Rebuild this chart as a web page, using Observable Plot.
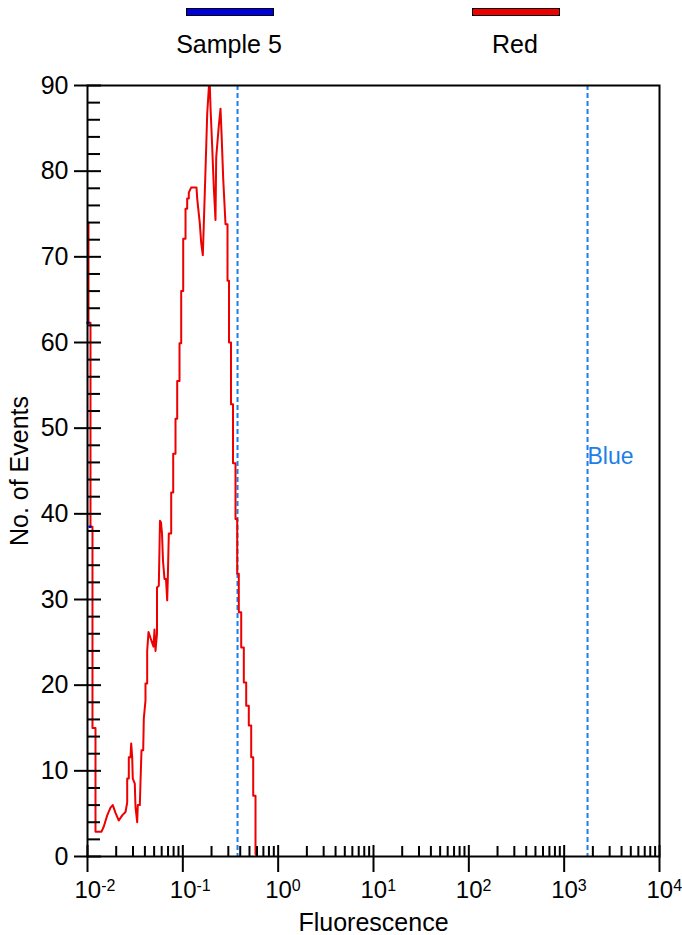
<!DOCTYPE html>
<html><head><meta charset="utf-8">
<script src="https://cdn.jsdelivr.net/npm/d3@7"></script>
<script src="https://cdn.jsdelivr.net/npm/@observablehq/plot@0.6"></script>
<style>
body{margin:0;background:#fff;}
#wrap{position:relative;width:682px;height:935px;font-family:"Liberation Sans",Arial,sans-serif;color:#000;}
.bar{position:absolute;top:8px;height:8px;width:88px;box-sizing:border-box;border:1px solid #000;}
.ltxt{position:absolute;top:32px;width:200px;text-align:center;font-size:25px;line-height:25px;}
</style></head><body>
<div id="wrap">
  <div class="bar" style="left:186px;background:#0000dd"></div>
  <div class="bar" style="left:472px;background:#ee0000"></div>
  <div class="ltxt" id="lt0" style="left:129px"></div>
  <div class="ltxt" id="lt1" style="left:415px"></div>
</div>
<script>
// Legend entries
const seriesNames = ["Sample 5", "Red"];

// Red histogram trace (fluorescence, no. of events)
const redFluor = [0.01024,0.01024,0.01075,0.01075,0.01128,0.01128,0.01213,0.01213,0.01403,0.01483,
0.01609,0.01743,0.01842,0.01967,0.02130,0.02312,0.02504,0.02609,0.02609,0.02712,
0.02712,0.02825,0.02873,0.02943,0.02986,0.03134,0.03187,0.03321,0.03369,0.03538,
0.03597,0.03685,0.03840,0.03896,0.04057,0.04057,0.04227,0.04227,0.04363,0.04579,
0.04923,0.05044,0.05167,0.05358,0.05358,0.05596,0.05761,0.05902,0.06046,0.06194,
0.06422,0.06659,0.06855,0.06955,0.07126,0.07425,0.07551,0.07551,0.07925,0.07925,
0.08378,0.08378,0.08728,0.08728,0.09228,0.09228,0.09614,0.09614,0.1009,0.1009,
0.1067,0.1067,0.1111,0.1111,0.1155,0.1155,0.1224,0.1391,0.1415,0.1507,
0.1559,0.1620,0.1660,0.1729,0.1802,0.1905,0.1951,0.2033,0.2113,0.2201,
0.2239,0.2384,0.2484,0.2545,0.2652,0.2803,0.2941,0.2941,0.3050,0.3050,
0.3201,0.3201,0.3360,0.3360,0.3568,0.3568,0.3718,0.3718,0.3864,0.3864,
0.4096,0.4096,0.4362,0.4362,0.4621,0.4621,0.4920,0.4920,0.5214,0.5214,
0.5472,0.5472,0.5785,0.5785,0.6027];
const redCount = [74,62.3,62.3,38.5,38.5,15,15,2.9,2.9,3.5,
4.8,5.7,6.0,5.1,4.2,4.8,5.2,6.3,9.1,9.1,
11.6,11.6,13.2,11.6,9.1,8.5,5.8,4.0,6.0,6.0,
8.7,12.4,12.4,16.1,18.2,20.2,20.2,24.0,26.2,25.5,
24.5,26.5,24.0,26.0,31.4,31.6,39.2,39.0,37.7,34.5,
32.4,32.4,29.9,32.4,37.7,37.7,37.7,42.5,42.5,47,
47,51.1,51.1,55.5,55.5,59.9,59.9,66,66,72.1,
72.1,75.6,75.6,76.8,76.8,77.5,78.1,78.1,76.8,73.9,
71.6,70.2,73.9,80.1,86.7,91,87.5,82.8,78.1,74.3,
81.6,85.3,87.3,84.5,79.1,73.8,73.8,67.2,67.2,60,
60,52.8,52.8,45.9,45.9,39.4,39.4,33,33,28.5,
28.5,24.4,24.4,20.3,20.3,17.6,17.6,15.3,15.3,11.6,
11.6,7.1,7.1,0.3,0];

// Sample 5 (blue) visible fragments
const sampleFluor = [0.01000,0.01024,0.01050,0.01075];
const sampleCount = [62.3,62.3,38.5,38.5];
const sampleSeg   = [0,0,1,1];

// Gate markers
const gateFluor = [0.3746, 1758];
const gateLabelFluor = [1758];
const gateLabelCount = [46.7];
const gateLabelText = ["Blue"];

// Ticks
const xTicks = [0.01,0.1,1,10,100,1000,10000];
const xExponents = ["-2","-1","0","1","2","3","4"];
const yTicks = [0,10,20,30,40,50,60,70,80,90];
const xMinor = [];
for (let e = -2; e < 4; e++) for (let m = 2; m <= 9; m++) xMinor.push(m * Math.pow(10, e));
const yMinor = d3.range(0, 91, 2).filter(v => v % 10 !== 0);

document.getElementById("lt0").textContent = seriesNames[0];
document.getElementById("lt1").textContent = seriesNames[1];

const red = redFluor.map((f, i) => ({f, c: redCount[i]}));
const sample = sampleFluor.map((f, i) => ({f, c: sampleCount[i], s: sampleSeg[i]}));
const gates = gateFluor.map(f => ({f}));
const glabels = gateLabelFluor.map((f, i) => ({f, c: gateLabelCount[i], t: gateLabelText[i]}));

const expOf = d => {
  let best = 0;
  xTicks.forEach((t, i) => { if (Math.abs(Math.log10(t) - Math.log10(d)) < Math.abs(Math.log10(xTicks[best]) - Math.log10(d))) best = i; });
  return xExponents[best];
};

const gateColor = "#1d7fe6";
const chart = Plot.plot({
  width: 682, height: 935,
  marginLeft: 87, marginRight: 23, marginTop: 85, marginBottom: 79,
  x: {type: "log", domain: [0.01, 10000]},
  y: {domain: [0, 90]},
  style: {fontFamily: "'Liberation Sans', Arial, sans-serif", color: "#000", background: "transparent", overflow: "visible"},
  marks: [
    Plot.ruleX(gates, {x: "f", stroke: gateColor, strokeWidth: 2, strokeDasharray: "5,3"}),
    Plot.line(red, {x: "f", y: "c", stroke: "#ee0000", strokeWidth: 2, clip: true}),
    Plot.line(sample, {x: "f", y: "c", z: "s", stroke: "#0000cc", strokeWidth: 2.5}),
    Plot.text(glabels, {x: "f", y: "c", text: "t", textAnchor: "start", fill: gateColor, fontSize: 23}),
    Plot.frame({stroke: "#000", strokeWidth: 2}),
    Plot.axisX(xMinor, {tickSize: -10, strokeWidth: 2, tickFormat: () => "", label: null}),
    Plot.axisX(xTicks, {tickSize: -11, strokeWidth: 2, tickFormat: () => "", label: null}),
    Plot.axisX(xTicks, {tickSize: 16, tickPadding: 8, strokeWidth: 2, fontSize: 24,
      tickFormat: d => "E" + expOf(d),
      label: "Fluorescence", labelAnchor: "center", labelArrow: "none", labelOffset: 74}),
    Plot.axisY(yMinor, {tickSize: -13, strokeWidth: 2, tickFormat: () => "", label: null}),
    Plot.axisY(yTicks, {tickSize: -14, strokeWidth: 2, tickFormat: () => "", label: null}),
    Plot.axisY(yTicks, {tickSize: 13, tickPadding: 6, strokeWidth: 2, fontSize: 25,
      label: "No. of Events", labelAnchor: "center", labelArrow: "none", labelOffset: 77})
  ]
});
chart.style.position = "absolute";
chart.style.left = "0px";
chart.style.top = "0px";
document.getElementById("wrap").appendChild(chart);

// superscript exponents on x tick labels (only labelled axis)
d3.select(chart).selectAll('g[aria-label="x-axis tick label"] text').each(function() {
  const t = d3.select(this);
  const raw = t.text().trim();
  if (!raw || raw[0] !== "E") { t.remove(); return; }
  const e = raw.slice(1);
  t.text("");
  t.attr("text-anchor", "start").attr("dx", -13).attr("font-size", 24);
  t.append("tspan").attr("font-size", 24).text("10");
  t.append("tspan").attr("dy", -7).attr("font-size", 16).text(e);
});
d3.select(chart).selectAll('g[aria-label="y-axis tick label"] text').each(function() {
  const t = d3.select(this);
  if (!t.text().trim()) t.remove();
});
// axis labels font size
d3.select(chart).selectAll('g[aria-label="x-axis label"], g[aria-label="y-axis label"]').attr("font-size", 25);
</script>
</body></html>
